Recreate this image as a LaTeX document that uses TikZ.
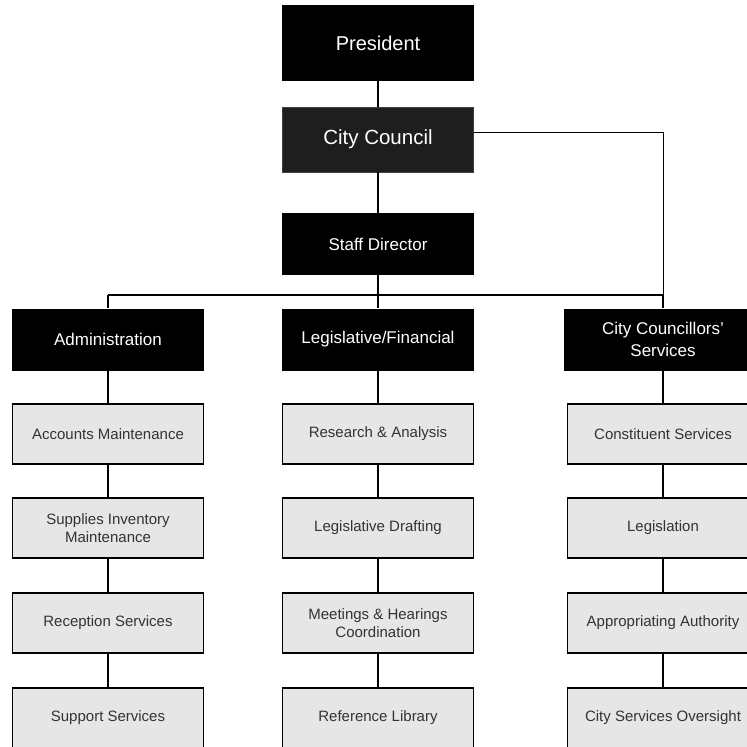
\documentclass[tikz,border=0pt]{standalone}
\usepackage{fontspec}
\setmainfont{Liberation Sans}
\begin{document}
\begin{tikzpicture}[x=1pt,y=-1pt,
  blkbox/.style={fill=black,text=white,minimum width=192pt,minimum height=62pt,inner sep=0pt,align=center,font=\fontsize{17}{22}\selectfont},
  greybox/.style={fill=boxgrey,draw=black,line width=1.5pt,text=textgrey,minimum width=191pt,minimum height=60pt,inner sep=0pt,align=center,font=\fontsize{15}{18}\selectfont},
  link/.style={line width=2pt},
  thinlink/.style={line width=1pt}]
\definecolor{boxgrey}{HTML}{E6E6E6}
\definecolor{textgrey}{HTML}{333333}
\definecolor{ccgrey}{HTML}{1E1E1E}
\useasboundingbox (0,0) rectangle (747,747);
\clip (0,0) rectangle (747,747);
% top
\node[blkbox,minimum height=76pt,font=\fontsize{20}{24}\selectfont] (pres) at (378,43) {President};
\node[blkbox,fill=ccgrey,draw=darkgray,line width=0.6pt,minimum width=191pt,minimum height=65pt,font=\fontsize{20.5}{24}\selectfont] (cc) at (378,139.5) {City Council};
\node[blkbox] (sd) at (378,244) {Staff Director};
% level 2
\node[blkbox] (adm) at (108,339.5) {Administration};
\node[blkbox] (leg) at (378,339.5) {Legislative/Financial};
\node[blkbox,minimum width=198pt] (ccs) at (663,339.5) {City Councillors'\\Services};
% left column
\node[greybox] (a1) at (108,434) {Accounts Maintenance};
\node[greybox] (a2) at (108,528) {Supplies Inventory\\Maintenance};
\node[greybox] (a3) at (108,623) {Reception Services};
\node[greybox] (a4) at (108,718) {Support Services};
% middle column
\node[greybox] (l1) at (378,434) {Research \& Analysis};
\node[greybox] (l2) at (378,528) {Legislative Drafting};
\node[greybox] (l3) at (378,623) {Meetings \& Hearings\\Coordination};
\node[greybox] (l4) at (378,718) {Reference Library};
% right column
\node[greybox] (c1) at (663,434) {Constituent Services};
\node[greybox] (c2) at (663,528) {Legislation};
\node[greybox] (c3) at (663,623) {Appropriating Authority};
\node[greybox] (c4) at (663,718) {City Services Oversight};
% coordinates
\coordinate (busL) at (108,295);
\coordinate (busM) at (378,295);
\coordinate (busR) at (663,295);
\coordinate (ccout) at (473.5,132);
\coordinate (ccturn) at (663,132);
% connectors
\draw[link] (pres) -- (cc);
\draw[link] (cc) -- (sd);
\draw[link] (sd) -- (busM);
\draw[link] (busL) -- (busR);
\draw[thinlink] (ccout) -- (ccturn) -- (busR);
\draw[link] (busL) -- (adm.north);
\draw[link] (busM) -- (leg.north);
\draw[link] (busR) -- (ccs.north);
\draw[link] (adm) -- (a1);
\draw[link] (a1) -- (a2);
\draw[link] (a2) -- (a3);
\draw[link] (a3) -- (a4);
\draw[link] (leg) -- (l1);
\draw[link] (l1) -- (l2);
\draw[link] (l2) -- (l3);
\draw[link] (l3) -- (l4);
\draw[link] (ccs) -- (c1);
\draw[link] (c1) -- (c2);
\draw[link] (c2) -- (c3);
\draw[link] (c3) -- (c4);
\end{tikzpicture}
\end{document}
